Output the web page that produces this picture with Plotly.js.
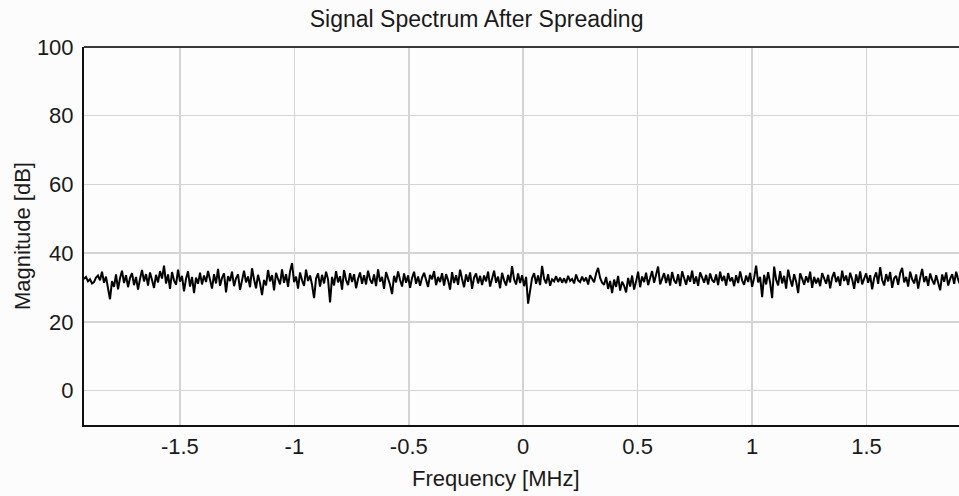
<!DOCTYPE html>
<html>
<head>
<meta charset="utf-8">
<script src="https://cdn.plot.ly/plotly-3.0.1.min.js"></script>
<style>html,body{margin:0;padding:0;background:#fcfcfc;}#chart{width:959px;height:496px;}</style>
</head>
<body>
<div id="chart"></div>
<script>
// Frequency axis (MHz): first bin and bin spacing
const freqStart = -1.919;
const freqStep = 0.00874;

// Magnitude [dB], left to right
const magnitudeDb = [
32.5,33.1,31.8,32.4,31.2,31.6,32.9,33.5,32.1,34.6,31.4,33.2,29.8,26.6,31.9,30.2,33.8,29.5,32.7,34.9,
31.3,33.6,30.1,32.8,34.2,30.7,33.1,29.4,32.5,35.1,31.8,33.9,30.6,34.4,32.2,29.9,33.7,31.5,34.8,32.6,
36.4,31.2,33.8,29.6,34.5,32.1,30.8,35.2,31.7,33.4,28.9,32.6,34.7,30.3,33.1,28.4,32.9,31.1,34.3,30.9,
33.5,31.6,34.8,32.3,29.7,33.9,31.2,35.4,30.5,32.8,34.1,28.6,33.3,31.9,34.6,30.4,32.7,33.8,29.3,32.1,
34.9,31.5,33.2,30.1,35.6,32.4,29.8,33.7,31.3,27.8,32.2,30.6,35.1,31.8,33.6,29.2,34.3,32.5,30.9,35.3,
31.4,33.9,30.2,34.7,37.1,31.6,33.2,29.7,34.4,32.1,30.5,35.2,31.9,33.5,30.8,26.9,32.6,34.1,30.3,33.7,
31.2,34.6,32.4,25.7,33.1,30.6,34.8,31.5,33.3,29.4,35.1,32.2,30.7,34.2,31.6,33.9,29.8,32.5,34.4,31.1,
33.6,30.9,34.9,32.3,31.2,33.8,30.4,35.3,31.7,33.1,29.6,34.5,32.6,30.8,28.1,33.4,31.5,34.7,32.2,30.3,
34.1,31.4,33.5,29.9,32.8,34.6,31.1,33.2,30.5,32.9,34.3,31.8,30.2,33.7,32.4,34.8,30.7,33.1,31.6,34.2,
30.6,33.9,32.1,29.4,34.5,31.3,33.6,30.8,35.2,32.5,30.1,33.8,31.7,34.4,29.6,32.9,34.1,31.2,33.4,30.7,
33.5,31.8,34.6,30.3,32.7,34.9,31.4,33.2,29.8,34.3,32.1,30.6,33.7,31.5,36.2,32.4,30.9,34.1,31.3,33.6,
30.4,33.1,25.3,29.6,32.8,34.2,31.1,33.5,30.7,36.3,32.6,31.2,33.9,30.5,32.4,31.8,33.3,31.6,32.9,31.4,
32.7,31.3,33.4,31.9,32.5,31.2,33.8,32.1,31.6,33.2,31.8,32.9,30.9,33.6,32.3,31.5,34.1,35.7,32.8,31.4,
30.8,33.1,29.6,31.9,28.4,32.3,30.2,33.4,29.1,31.7,30.5,28.6,32.8,30.3,33.5,29.4,31.8,34.6,30.1,33.2,
31.6,34.3,30.7,32.9,34.8,31.4,33.6,36.1,30.9,32.5,34.2,31.3,33.8,30.6,34.5,32.1,31.2,33.9,30.4,34.7,
32.3,30.8,33.5,31.7,34.9,31.1,33.2,30.5,34.4,32.6,31.4,33.7,30.9,34.1,32.2,31.5,33.8,30.7,34.6,31.9,
33.4,30.6,34.2,31.8,32.9,30.4,33.6,31.3,34.7,32.1,30.8,33.5,31.6,34.3,30.2,32.8,36.4,31.5,33.1,27.2,
33.7,30.9,34.5,31.4,26.9,36.1,32.3,30.6,34.8,31.2,33.4,29.7,35.2,32.5,30.3,33.9,31.7,28.4,34.1,32.6,
30.8,33.3,31.5,34.6,29.9,33.1,31.2,32.8,30.4,34.2,32.3,31.1,33.7,29.8,32.9,34.5,31.6,33.2,30.5,34.9,
31.9,33.5,30.7,34.3,32.4,29.6,33.8,31.3,34.7,30.9,32.6,34.1,31.4,33.6,29.5,32.8,34.4,31.1,35.9,32.2,
30.6,33.9,31.8,34.5,29.9,32.7,33.4,30.8,34.2,35.7,31.5,33.1,30.3,34.6,32.4,31.2,33.8,29.7,32.9,35.4,
31.6,33.3,30.5,34.1,32.2,30.9,33.6,31.4,29.2,33.8,31.7,34.4,30.6,32.5,33.9,31.1,34.6,32.3,30.8,33.5
];

// Tick labels
const xTickVals = [-1.5, -1, -0.5, 0, 0.5, 1, 1.5];
const xTickText = ["-1.5", "-1", "-0.5", "0", "0.5", "1", "1.5"];
const yTickVals = [0, 20, 40, 60, 80, 100];
const yTickText = ["0", "20", "40", "60", "80", "100"];

const titleText = "Signal Spectrum After Spreading";
const xLabel = "Frequency [MHz]";
const yLabel = "Magnitude [dB]";

const FONT = "'Liberation Sans', Arial, sans-serif";

const trace = {
  type: "scatter",
  mode: "lines",
  x0: freqStart,
  dx: freqStep,
  y: magnitudeDb,
  line: { color: "#000000", width: 2 },
  hoverinfo: "skip"
};

const layout = {
  width: 959,
  height: 496,
  margin: { l: 84, r: 0, t: 47, b: 71, pad: 0 },
  paper_bgcolor: "#fcfcfc",
  plot_bgcolor: "#fdfdfd",
  showlegend: false,
  font: { family: FONT, size: 22, color: "#1a1a1a" },
  title: {
    text: titleText,
    font: { family: FONT, size: 23, color: "#1a1a1a" },
    xref: "container", x: 0.497, xanchor: "center",
    yref: "container", y: 1 - 19 / 496, yanchor: "middle"
  },
  xaxis: {
    range: [-1.919, 1.904],
    tickmode: "array",
    tickvals: xTickVals,
    ticktext: xTickText,
    showgrid: true,
    gridcolor: "#d4d4d4",
    gridwidth: 1.5,
    zeroline: false,
    showline: true,
    linecolor: "#111111",
    linewidth: 2,
    ticks: "",
    ticklabelstandoff: 1,
    tickfont: { family: FONT, size: 22, color: "#1a1a1a" },
    fixedrange: true
  },
  yaxis: {
    range: [-10, 100],
    tickmode: "array",
    tickvals: yTickVals,
    ticktext: yTickText,
    showgrid: true,
    gridcolor: "#d4d4d4",
    gridwidth: 1.5,
    zeroline: false,
    showline: true,
    linecolor: "#111111",
    linewidth: 2,
    ticks: "",
    ticklabelstandoff: 4,
    tickfont: { family: FONT, size: 22, color: "#1a1a1a" },
    fixedrange: true
  },
  shapes: [
    { type: "line", xref: "paper", yref: "paper", x0: 0, x1: 1, y0: 1, y1: 1,
      line: { color: "#3a3a3a", width: 2 } }
  ],
  annotations: [
    { text: xLabel, xref: "paper", yref: "paper", x: (496 - 84) / 875, y: -(478 - 425) / 378,
      xanchor: "center", yanchor: "middle", showarrow: false,
      font: { family: FONT, size: 22, color: "#1a1a1a" } },
    { text: yLabel, xref: "paper", yref: "paper", x: (22 - 84) / 875, y: (425 - 236) / 378,
      xanchor: "center", yanchor: "middle", showarrow: false, textangle: -90,
      font: { family: FONT, size: 22, color: "#1a1a1a" } }
  ]
};

Plotly.newPlot("chart", [trace], layout, { staticPlot: true, displayModeBar: false });
</script>
</body>
</html>
